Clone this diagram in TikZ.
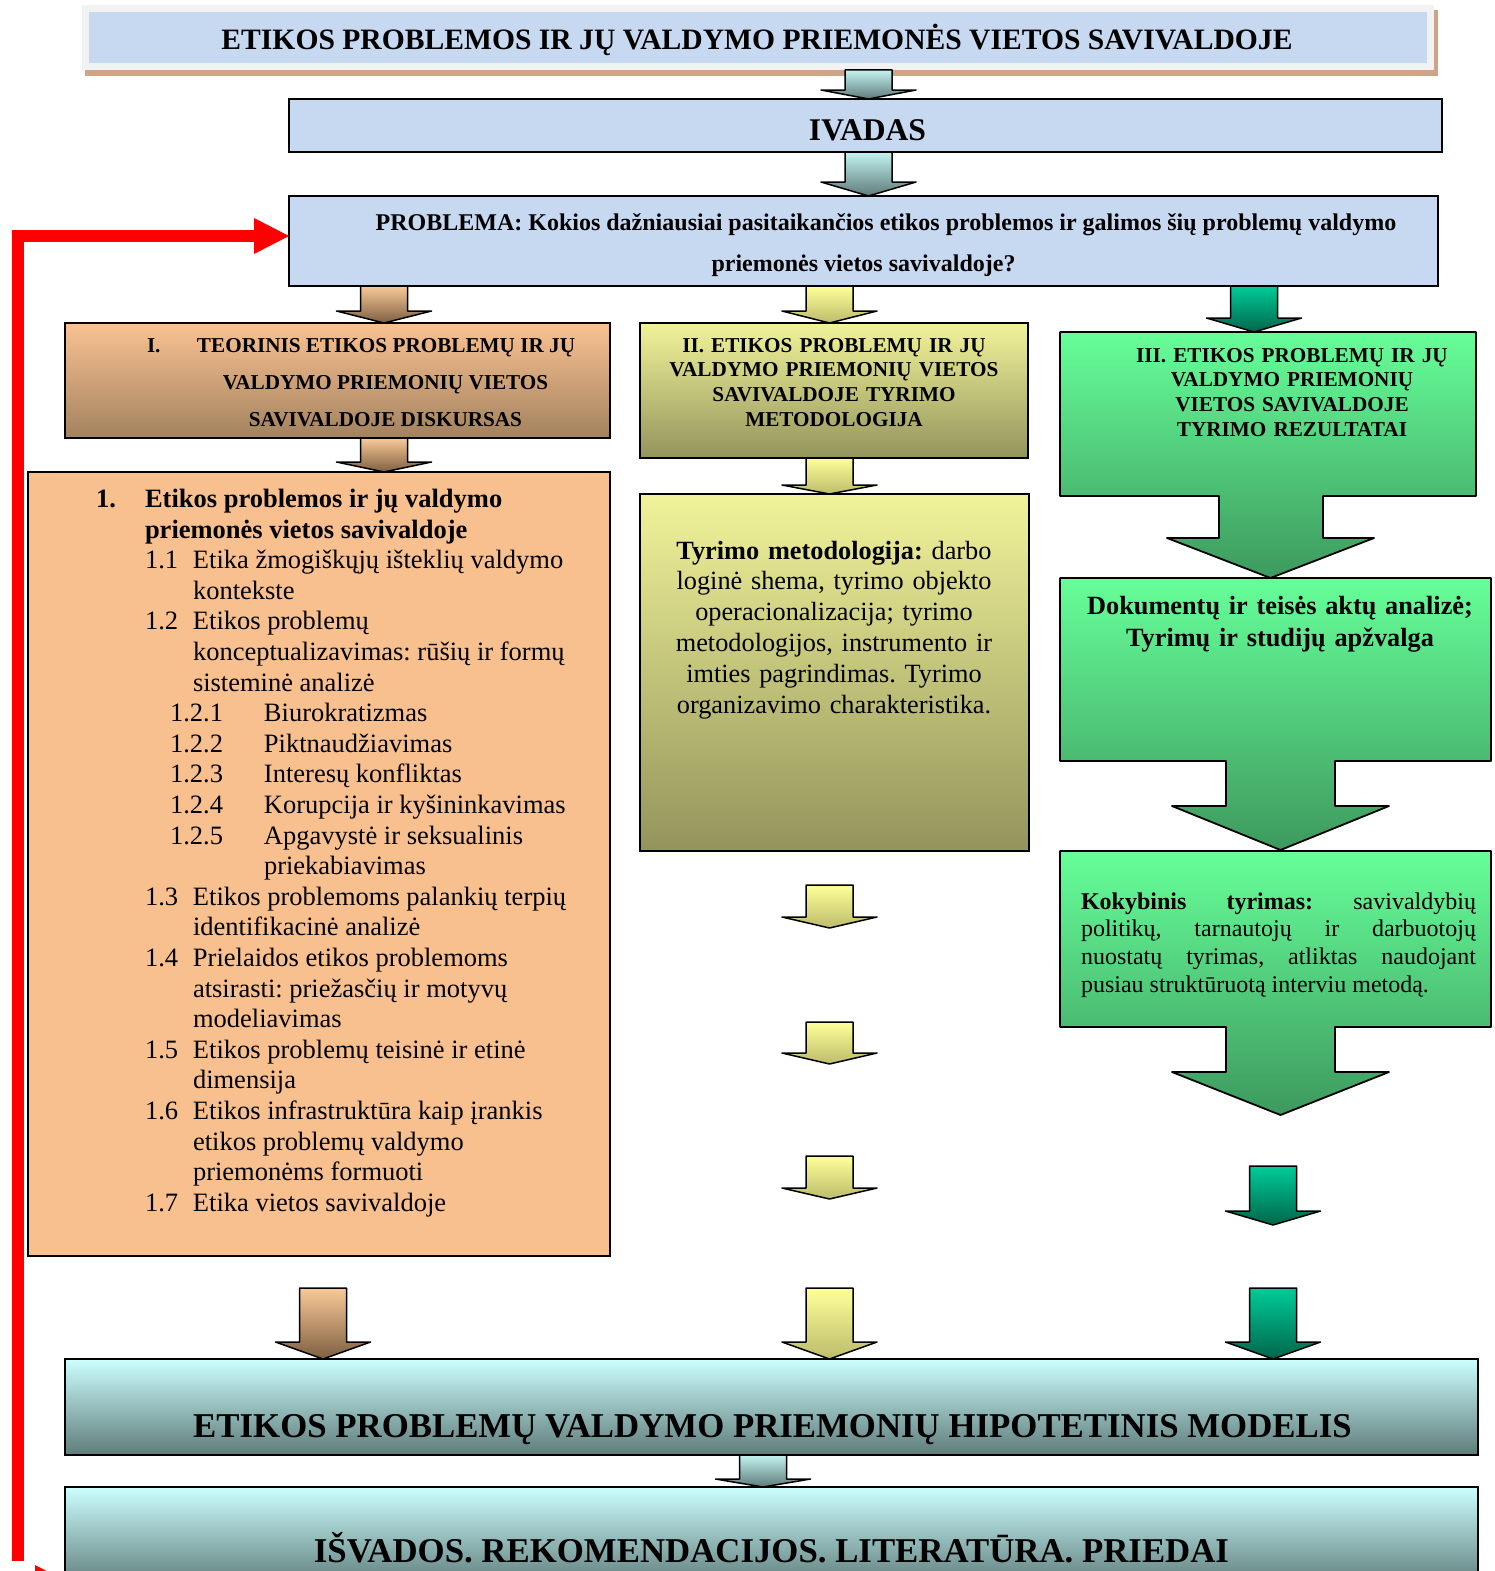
\documentclass[tikz,border=0pt]{standalone}
\usepackage{fontspec}
\setmainfont{Liberation Serif}
\usetikzlibrary{calc}
\frenchspacing

% palette
\definecolor{hdrblue}{HTML}{C6D9F1}
\definecolor{framegrey}{HTML}{F2F2F2}
\definecolor{shadowtan}{HTML}{CFA384}
\definecolor{peach}{HTML}{F9C08F}
\definecolor{peachtop}{HTML}{FAC292}
\definecolor{peachbot}{HTML}{A2825E}
\definecolor{brownlight}{HTML}{F9CA98}
\definecolor{browndark}{HTML}{7E5F41}
\definecolor{yellowlight}{HTML}{FFFF99}
\definecolor{yellowdark}{HTML}{BCBC6C}
\definecolor{olivetop}{HTML}{F1F39A}
\definecolor{olivebot}{HTML}{93945B}
\definecolor{greentop}{HTML}{66FF99}
\definecolor{greenmid}{HTML}{5BE08A}
\definecolor{greenbot}{HTML}{3D995E}
\definecolor{tealtop}{HTML}{00CC99}
\definecolor{tealbot}{HTML}{00664A}
\definecolor{cyantop}{HTML}{CCFFFF}
\definecolor{cyanarrow}{HTML}{C3F3F0}
\definecolor{slatebot}{HTML}{5E7B79}

% font sizes (1pt = 1 unit of the drawing)
\newcommand\fTitle{\fontsize{29.6}{35}\selectfont\bfseries}
\newcommand\fIntro{\fontsize{31.6}{38}\selectfont\bfseries}
\newcommand\fProb{\fontsize{24}{29}\selectfont\bfseries}
\newcommand\fHead{\fontsize{21.2}{24.7}\selectfont\bfseries}
\newcommand\fToc{\fontsize{26.5}{30.6}\selectfont}
\newcommand\fMeth{\fontsize{26.3}{30.8}\selectfont}
\newcommand\fDoc{\fontsize{26.3}{32}\selectfont\bfseries}
\newcommand\fQual{\fontsize{24}{27.7}\selectfont}
\newcommand\fModel{\fontsize{34.8}{40}\selectfont\bfseries}

\tikzset{
  box/.style={draw=black, line width=1.8pt, inner sep=0pt, outer sep=0pt},
  txt/.style={inner sep=0pt, outer sep=0pt},
  arrowbody/.style={draw=black, line width=1.5pt, line join=round},
  slatearrow/.style={arrowbody, top color=cyanarrow, bottom color=slatebot},
  brownarrow/.style={arrowbody, top color=brownlight, bottom color=browndark},
  yellowarrow/.style={arrowbody, top color=yellowlight, bottom color=yellowdark},
  tealarrow/.style={arrowbody, top color=tealtop, bottom color=tealbot},
  greencallout/.style={draw=black, line width=1.8pt, line join=round,
    top color=greentop, middle color=greenmid, bottom color=greenbot},
  toc/.style={txt, anchor=base west, font=\fToc},
}

% block arrow pointing down: style, start (top centre), tip, head length
\newcommand\blockarrow[4]{%
  \path[#1] let \p1=#2, \p2=#3 in
    ({\x1-23.5pt},\y1) -- ({\x1+23.5pt},\y1) -- ({\x1+23.5pt},{\y2+#4pt})
    -- ({\x1+47.5pt},{\y2+#4pt}) -- (\x1,\y2) -- ({\x1-47.5pt},{\y2+#4pt})
    -- ({\x1-23.5pt},{\y2+#4pt}) -- cycle;}

% table of contents rows
\newcommand\tocrow[2]{\node[toc] (toc#1) at (96,{507.5+30.6*#1}) {#2};}
\newcommand\tocsec[2]{\hspace*{49pt}\makebox[48pt][l]{#1}#2}
\newcommand\toccont[1]{\hspace*{97pt}#1}
\newcommand\tocsub[2]{\hspace*{74pt}\makebox[94pt][l]{#1}#2}
\newcommand\tocsubcont[1]{\hspace*{168pt}#1}

\begin{document}
\begin{tikzpicture}[x=1pt,y=-1pt]
\path[use as bounding box] (0,0) rectangle (1494,1571);
\clip (0,0) rectangle (1494,1571);

% column positions of the block arrows
\coordinate (colM) at (868.5,0);
\coordinate (colA) at (384,0);
\coordinate (colB) at (829.5,0);
\coordinate (colC) at (1254,0);
\coordinate (colD) at (323,0);
\coordinate (colE) at (1273,0);
\coordinate (colF) at (763,0);

% ---- title banner
\fill[shadowtan] (85,10) rectangle (1438,76);
\node[txt, fill=framegrey, minimum width=1352pt, minimum height=65pt] (ttlframe) at (758,37.5) {};
\node[txt, fill=hdrblue, minimum width=1338pt, minimum height=51pt] (ttlbox) at (758,37.5) {};
\node[txt, anchor=base, font=\fTitle] (ttl) at (757,49.5)
  {ETIKOS PROBLEMOS IR JŲ VALDYMO PRIEMONĖS VIETOS SAVIVALDOJE};

% ---- introduction and problem
\node[box, fill=hdrblue, minimum width=1153pt, minimum height=53pt] (intro) at (865.5,125.5) {};
\node[txt, anchor=base, font=\fIntro] (introt) at (867.5,140) {IVADAS};

\node[box, fill=hdrblue, minimum width=1149pt, minimum height=90pt] (prob) at (863.5,241) {};
\node[txt, anchor=base, font=\fProb] (probA) at (886,230)
  {PROBLEMA: Kokios dažniausiai pasitaikančios etikos problemos ir galimos šių problemų valdymo};
\node[txt, anchor=base, font=\fProb] (probB) at (863.5,271) {priemonės vietos savivaldoje?};

\blockarrow{slatearrow}{(ttlframe.south -| colM)}{(intro.north -| colM)}{9}
\blockarrow{slatearrow}{(intro.south -| colM)}{(prob.north -| colM)}{14}

% ---- part I: theory
\node[box, top color=peachtop, bottom color=peachbot, minimum width=545pt, minimum height=115pt] (thI) at (337.5,380.5) {};
\node[txt, anchor=base west, font=\fHead] (thIa) at (147,352) {\makebox[50pt][l]{I.}TEORINIS ETIKOS PROBLEMŲ IR JŲ};
\node[txt, anchor=base, font=\fHead] (thIb) at (385.5,389) {VALDYMO PRIEMONIŲ VIETOS};
\node[txt, anchor=base, font=\fHead] (thIc) at (385.5,426) {SAVIVALDOJE DISKURSAS};

\node[box, fill=peach, minimum width=582pt, minimum height=784pt] (toc) at (319,864) {};
\tocrow{0}{\textbf{\makebox[49pt][l]{1.}Etikos problemos ir jų valdymo}}
\tocrow{1}{\hspace*{49pt}\textbf{priemonės vietos savivaldoje}}
\tocrow{2}{\tocsec{1.1}{Etika žmogiškųjų išteklių valdymo}}
\tocrow{3}{\toccont{kontekste}}
\tocrow{4}{\tocsec{1.2}{Etikos problemų}}
\tocrow{5}{\toccont{konceptualizavimas: rūšių ir formų}}
\tocrow{6}{\toccont{sisteminė analizė}}
\tocrow{7}{\tocsub{1.2.1}{Biurokratizmas}}
\tocrow{8}{\tocsub{1.2.2}{Piktnaudžiavimas}}
\tocrow{9}{\tocsub{1.2.3}{Interesų konfliktas}}
\tocrow{10}{\tocsub{1.2.4}{Korupcija ir kyšininkavimas}}
\tocrow{11}{\tocsub{1.2.5}{Apgavystė ir seksualinis}}
\tocrow{12}{\tocsubcont{priekabiavimas}}
\tocrow{13}{\tocsec{1.3}{Etikos problemoms palankių terpių}}
\tocrow{14}{\toccont{identifikacinė analizė}}
\tocrow{15}{\tocsec{1.4}{Prielaidos etikos problemoms}}
\tocrow{16}{\toccont{atsirasti: priežasčių ir motyvų}}
\tocrow{17}{\toccont{modeliavimas}}
\tocrow{18}{\tocsec{1.5}{Etikos problemų teisinė ir etinė}}
\tocrow{19}{\toccont{dimensija}}
\tocrow{20}{\tocsec{1.6}{Etikos infrastruktūra kaip įrankis}}
\tocrow{21}{\toccont{etikos problemų valdymo}}
\tocrow{22}{\toccont{priemonėms formuoti}}
\tocrow{23}{\tocsec{1.7}{Etika vietos savivaldoje}}

% ---- part II: methodology
\node[box, top color=olivetop, bottom color=olivebot, minimum width=388pt, minimum height=135pt] (thII) at (834,390.5) {};
\node[txt, anchor=base, font=\fHead, text width=388pt, align=center] (thIIt) at (834,352)
  {II. ETIKOS PROBLEMŲ IR JŲ\\VALDYMO PRIEMONIŲ VIETOS\\SAVIVALDOJE TYRIMO\\METODOLOGIJA};

\node[box, top color=olivetop, bottom color=olivebot, minimum width=389pt, minimum height=357pt] (meth) at (834.5,672.5) {};
\node[txt, anchor=base, font=\fMeth, text width=385pt, align=center] (metht) at (834,559)
  {\textbf{Tyrimo metodologija:} darbo\\loginė shema, tyrimo objekto\\operacionalizacija; tyrimo\\metodologijos, instrumento ir\\imties pagrindimas. Tyrimo\\organizavimo charakteristika.};

% ---- part III: results (boxes merged with their arrows)
\path[greencallout] (1060,332) -- (1476,332) -- (1476,496) -- (1323,496) -- (1323,538)
  -- (1374,538) -- (1270.5,578) -- (1167,538) -- (1219,538) -- (1219,496) -- (1060,496) -- cycle;
\coordinate (resIIItop) at (1268,332);
\node[txt, anchor=base, font=\fHead, text width=410pt, align=center] (resIIIt) at (1292,362)
  {III. ETIKOS PROBLEMŲ IR JŲ\\VALDYMO PRIEMONIŲ\\VIETOS SAVIVALDOJE\\TYRIMO REZULTATAI};

\path[greencallout] (1060,578) -- (1491,578) -- (1491,761) -- (1335,761) -- (1335,806)
  -- (1389,806) -- (1280.5,850) -- (1172,806) -- (1226,806) -- (1226,761) -- (1060,761) -- cycle;
\node[txt, anchor=base, font=\fDoc, text width=425pt, align=center] (doct) at (1280,614)
  {Dokumentų ir teisės aktų analizė;\\Tyrimų ir studijų apžvalga};

\path[greencallout] (1060,851) -- (1491,851) -- (1491,1027) -- (1335,1027) -- (1335,1072)
  -- (1389,1072) -- (1280.5,1115) -- (1172,1072) -- (1226,1072) -- (1226,1027) -- (1060,1027) -- cycle;
\node[txt, anchor=base west, font=\fQual, text width=395pt, align=justify] (qualt) at (1081,909)
  {\hbadness=10000 \textbf{Kokybinis tyrimas:} savivaldybių\linebreak politikų, tarnautojų ir darbuotojų\linebreak nuostatų tyrimas, atliktas naudojant\linebreak pusiau struktūruotą interviu metodą.};

% ---- arrows below the problem box
\blockarrow{brownarrow}{(prob.south -| colA)}{(thI.north -| colA)}{12}
\blockarrow{yellowarrow}{(prob.south -| colB)}{(thII.north -| colB)}{12}
\blockarrow{tealarrow}{(prob.south -| colC)}{(resIIItop -| colC)}{14}
\blockarrow{brownarrow}{(thI.south -| colA)}{(toc.north -| colA)}{10}
\blockarrow{yellowarrow}{(thII.south -| colB)}{(meth.north -| colB)}{9}

% free-standing arrows in the middle and right columns
\coordinate (yA1) at (829.5,885);  \coordinate (yA2) at (829.5,928);
\coordinate (yB1) at (829.5,1022); \coordinate (yB2) at (829.5,1064);
\coordinate (yC1) at (829.5,1156); \coordinate (yC2) at (829.5,1199);
\coordinate (gS1) at (1273,1166);  \coordinate (gS2) at (1273,1225);
\blockarrow{yellowarrow}{(yA1)}{(yA2)}{11}
\blockarrow{yellowarrow}{(yB1)}{(yB2)}{11}
\blockarrow{yellowarrow}{(yC1)}{(yC2)}{11}
\blockarrow{tealarrow}{(gS1)}{(gS2)}{14}

% ---- hypothetical model and conclusions
\node[box, top color=cyantop, bottom color=slatebot, minimum width=1413pt, minimum height=96pt] (model) at (771.5,1407) {};
\node[txt, anchor=base, font=\fModel] (modelt) at (772.5,1437)
  {ETIKOS PROBLEMŲ VALDYMO PRIEMONIŲ HIPOTETINIS MODELIS};
\node[box, top color=cyantop, bottom color=slatebot, minimum width=1413pt, minimum height=100pt] (concl) at (771.5,1537) {};
\node[txt, anchor=base, font=\fModel] (conclt) at (771.5,1562)
  {IŠVADOS. REKOMENDACIJOS. LITERATŪRA. PRIEDAI};

\coordinate (bA1) at (323,1288);
\coordinate (bB1) at (829.5,1288);
\coordinate (bC1) at (1273,1288);
\blockarrow{brownarrow}{(bA1)}{(model.north -| colD)}{17}
\blockarrow{yellowarrow}{(bB1)}{(model.north -| colB)}{17}
\blockarrow{tealarrow}{(bC1)}{(model.north -| colE)}{17}
\blockarrow{slatearrow}{(model.south -| colF)}{(concl.north -| colF)}{8}

% ---- feedback loop back to the problem
\coordinate (redbot) at (18,1561);
\coordinate (redcorner) at (18,236);
\coordinate (redend) at (254,236);
\draw[red, line width=11.5pt, line join=miter] (redbot) -- (redcorner) -- (redend);
\fill[red] (redend |- 0,218) -- (prob.west |- redend) -- (redend |- 0,254) -- cycle;
\fill[red] (35,1565) -- (70,1583) -- (35,1601) -- cycle;
\end{tikzpicture}
\end{document}
